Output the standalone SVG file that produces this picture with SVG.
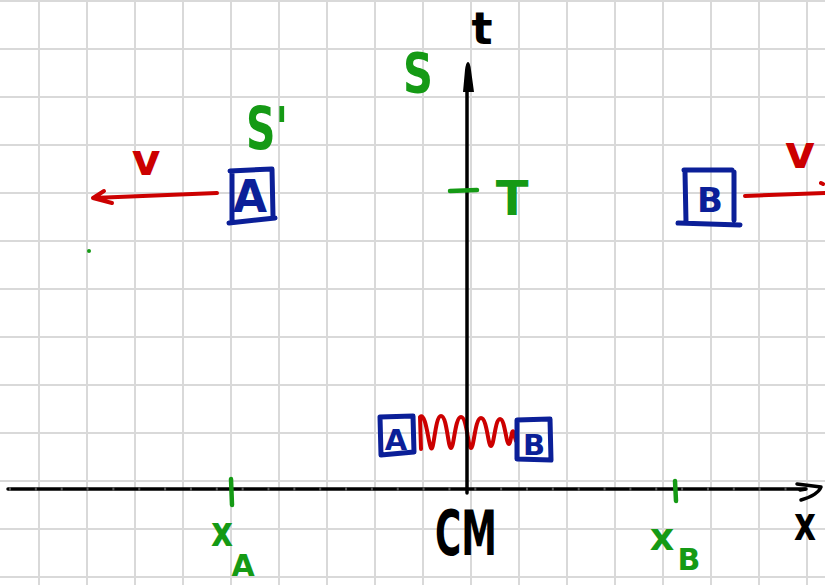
<svg xmlns="http://www.w3.org/2000/svg" width="825" height="585" viewBox="0 0 825 585">
<defs>
<style>
.grid{stroke:#d9d9d9;stroke-width:2}
.ink{fill:none;stroke-linecap:round;stroke-linejoin:round}
.blk{stroke:#000;stroke-width:3.5}
.blue{stroke:#0b1f98;stroke-width:5}
.red{stroke:#cc0000;stroke-width:4}
.grn{stroke:#159a15;stroke-width:4.5}
text{font-family:"DejaVu Sans","Liberation Sans",sans-serif;font-weight:bold;text-anchor:middle}
.tb{fill:#000}
.tg{fill:#159a15}
.tu{fill:#0b1f98}
.tr{fill:#cc0000}
</style>
<pattern id="ticks" x="9" y="0" width="25.85" height="585" patternUnits="userSpaceOnUse">
<rect x="0" y="487" width="2" height="4" fill="#555"/>
</pattern>
</defs>
<rect width="825" height="585" fill="#fff"/>
<g id="grid" class="grid">
<path d="M39,0V585M87,0V585M135,0V585M183,0V585M231,0V585M279,0V585M327,0V585M375,0V585M423,0V585M471,0V585M519,0V585M567,0V585M615,0V585M663,0V585M711,0V585M759,0V585M807,0V585"/>
<path d="M0,1H825M0,49H825M0,97H825M0,145H825M0,193H825M0,241H825M0,289H825M0,337H825M0,385H825M0,433H825M0,481H825M0,529H825M0,577H825"/>
</g>
<g id="connectors">
<path id="spring" class="ink red" stroke-width="5" d="M421,449 L420,417 C426,412 428,442 431,448 C434,453 435,416 441,416 C447,416 448,448 451,448 C454,448 455,417 461,417 C467,417 468,448 471,448 C474,448 475,418 481,418 C487,418 488,446 491,446 C494,446 495,419 500,419 C505,419 506,444 509,444 C511,444 512,424 514,434 L516,441"/>
<path id="x-axis" class="ink blk" d="M8,489 L805,489"/>
<rect x="8" y="480" width="790" height="18" fill="url(#ticks)"/>
<path id="x-arrowhead" class="ink blk" stroke-width="4.5" d="M797,484 L821,487 Q818,495 801,500 M800,490 L806,489"/>
<path id="t-axis" class="ink blk" d="M467,493 L467,75"/>
<path id="t-arrowhead" d="M468,62 Q470,62 471,70 L474,92 L463,92 L465,70 Q466,62 468,62 Z" fill="#000"/>
<path id="arrow-A" class="ink red" d="M217,193 L93,198 M93,198 L104,191 M93,198 L112,203"/>
<path id="arrow-B" class="ink red" d="M745,196 L825,193 M821,183 L823,184"/>
</g>
<g id="box-A-top">
<path class="ink blue" d="M232,172 L232,220 M230,171 L272,169 L273,216 M229,223 L275,218"/>
<text class="tu" x="250" y="212" font-size="44">A</text>
</g>
<g id="box-B-top">
<path class="ink blue" d="M685,172 L686,222 M684,170 L732,170 M734,172 L734,220 M678,223 L740,225"/>
<text class="tu" x="710" y="212" font-size="34">B</text>
</g>
<g id="box-A-spring">
<path class="ink blue" d="M380,417 L413,416 L414,452 L381,455 Z"/>
<text class="tu" x="396" y="450" font-size="29">A</text>
</g>
<g id="box-B-spring">
<path class="ink blue" d="M517,420 L550,419 L551,460 L517,459 Z"/>
<text class="tu" x="534" y="455" font-size="29">B</text>
</g>
<g id="labels">
<text class="tb" x="482" y="44" font-size="44">t</text>
<text class="tb" x="805" y="540" font-size="48" textLength="22" lengthAdjust="spacingAndGlyphs">x</text>
<text class="tb" x="466" y="555" font-size="62" textLength="62" lengthAdjust="spacingAndGlyphs">CM</text>
<text class="tg" x="418" y="92" font-size="56" textLength="30" lengthAdjust="spacingAndGlyphs">S</text>
<text class="tg" x="267" y="149" font-size="58" textLength="42" lengthAdjust="spacingAndGlyphs">S'</text>
<path class="ink grn" d="M450,191 L477,190"/>
<text class="tg" x="512" y="215" font-size="48">T</text>
<text class="tr" x="146" y="175" font-size="44">v</text>
<text class="tr" x="800" y="168" font-size="46">v</text>
<path class="ink grn" d="M231,479 L232,505"/>
<text class="tg" x="222" y="546" font-size="42" textLength="22" lengthAdjust="spacingAndGlyphs">x</text>
<text class="tg" x="243" y="576" font-size="30">A</text>
<path class="ink grn" d="M675,481 L676,501"/>
<text class="tg" x="662" y="550" font-size="38">x</text>
<text class="tg" x="689" y="570" font-size="30">B</text>
<circle cx="89" cy="251" r="2" fill="#159a15"/>
</g>
</svg>
